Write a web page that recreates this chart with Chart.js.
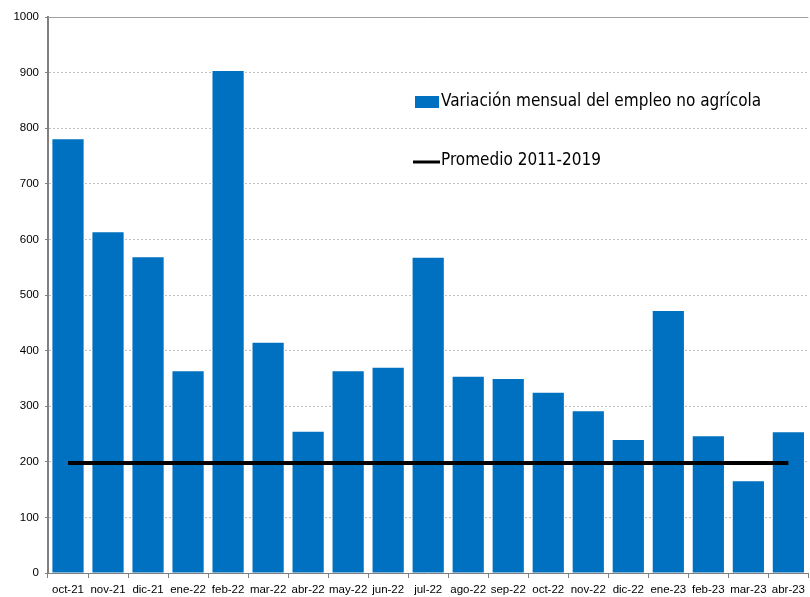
<!DOCTYPE html>
<html>
<head>
<meta charset="utf-8">
<script src="https://cdn.jsdelivr.net/npm/chart.js@4.4.0/dist/chart.umd.min.js"></script>
<style>
html,body{margin:0;padding:0;background:#fff;}
#wrap{position:relative;width:810px;height:597px;}
</style>
</head>
<body>
<div id="wrap"><canvas id="c" width="810" height="597"></canvas></div>
<script>
const categories = ["oct-21","nov-21","dic-21","ene-22","feb-22","mar-22","abr-22","may-22","jun-22","jul-22","ago-22","sep-22","oct-22","nov-22","dic-22","ene-23","feb-23","mar-23","abr-23"];
const empleoNoAgricola = [780, 613, 568, 363, 903, 414, 254, 363, 369, 567, 353, 349, 324, 291, 239, 471, 246, 165, 253];
const promedio20112019 = [198, 198, 198, 198, 198, 198, 198, 198, 198, 198, 198, 198, 198, 198, 198, 198, 198, 198, 198];
const seriesNames = ["Variación mensual del empleo no agrícola", "Promedio 2011-2019"];
const yTicks = { min: 0, max: 1000, step: 100 };

const BLUE = '#0070C0';

const legendPlugin = {
  id: 'customLegend',
  afterDraw(chart) {
    const ctx = chart.ctx;
    ctx.save();
    // solid top border of plot area
    const a = chart.chartArea;
    ctx.strokeStyle = '#a0a0a0';
    ctx.lineWidth = 1;
    ctx.beginPath();
    ctx.moveTo(a.left, a.top + 0.5);
    ctx.lineTo(a.right, a.top + 0.5);
    ctx.stroke();

    ctx.font = '17px "DejaVu Sans Condensed", "DejaVu Sans", sans-serif';
    ctx.textBaseline = 'middle';
    ctx.fillStyle = BLUE;
    ctx.fillRect(415, 96, 24, 12);
    ctx.fillStyle = '#000';
    ctx.fillText(seriesNames[0], 441, 102);
    ctx.strokeStyle = '#000';
    ctx.lineWidth = 3;
    ctx.beginPath();
    ctx.moveTo(413, 162);
    ctx.lineTo(440, 162);
    ctx.stroke();
    ctx.fillText(seriesNames[1], 441, 161);
    ctx.restore();
  }
};

new Chart(document.getElementById('c'), {
  data: {
    labels: categories,
    datasets: [
      {
        type: 'line',
        label: seriesNames[1],
        data: promedio20112019,
        borderColor: '#000',
        borderWidth: 4,
        pointRadius: 0,
        fill: false,
        order: 0
      },
      {
        type: 'bar',
        label: seriesNames[0],
        data: empleoNoAgricola,
        backgroundColor: BLUE,
        borderWidth: 0,
        categoryPercentage: 1.0,
        barPercentage: 0.78,
        order: 1
      }
    ]
  },
  options: {
    responsive: false,
    animation: false,
    devicePixelRatio: 1,
    layout: { padding: { top: 17, right: 0, bottom: 0, left: 0 } },
    plugins: { legend: { display: false }, tooltip: { enabled: false } },
    scales: {
      x: {
        offset: true,
        grid: { offset: true, drawOnChartArea: false, drawTicks: true, tickLength: 5, color: '#808080' },
        border: { color: '#808080', width: 1 },
        ticks: { color: '#000', font: { family: '"Liberation Sans", Arial, sans-serif', size: 11.5 }, maxRotation: 0, autoSkip: false, padding: 5 },
        afterFit(axis) { axis.height = 24; }
      },
      y: {
        min: yTicks.min, max: yTicks.max,
        ticks: { stepSize: yTicks.step, color: '#000', font: { family: '"Liberation Sans", Arial, sans-serif', size: 11.5 }, padding: 6,
                 callback: (v) => String(v) },
        grid: { color: '#c0c0c0', drawTicks: true, tickLength: 3, tickColor: '#808080' },
        border: { color: '#808080', width: 2, dash: [2, 2] },
        afterFit(axis) { axis.width = 48; }
      }
    }
  },
  plugins: [legendPlugin]
});
</script>
</body>
</html>
